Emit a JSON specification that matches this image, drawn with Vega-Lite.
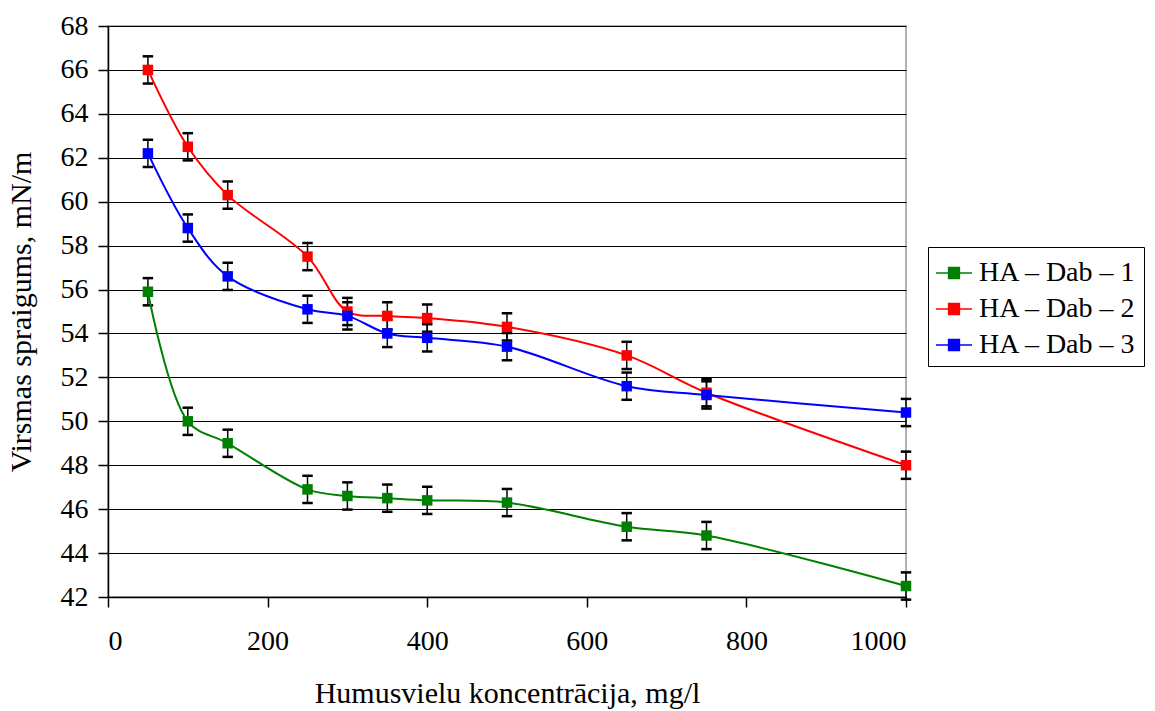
{
  "$schema": "https://vega.github.io/schema/vega-lite/v6.json",
  "width": 798,
  "height": 571,
  "autosize": {"type": "none"},
  "padding": {"left": 108, "top": 26, "right": 249, "bottom": 114},
  "background": "white",
  "config": {
    "font": "Liberation Serif",
    "view": {"stroke": "#999999", "strokeWidth": 1.5},
    "axis": {
      "labelFont": "Liberation Serif",
      "titleFont": "Liberation Serif",
      "labelFontSize": 28,
      "titleFontSize": 30,
      "titleFontWeight": "normal",
      "labelColor": "black",
      "titleColor": "black",
      "domainColor": "black",
      "tickColor": "black",
      "domainWidth": 1.5,
      "tickWidth": 1.5,
      "tickSize": 10,
      "gridColor": "black",
      "gridWidth": 1.2,
      "gridOpacity": 1
    },
    "legend": {
      "labelFont": "Liberation Serif",
      "labelFontSize": 28,
      "labelColor": "black"
    }
  },
  "data": {
    "values": [
      {"c": 50, "v": 55.9, "e": 0.62, "s": "HA – Dab – 1"},
      {"c": 100, "v": 50.0, "e": 0.62, "s": "HA – Dab – 1"},
      {"c": 150, "v": 49.0, "e": 0.62, "s": "HA – Dab – 1"},
      {"c": 250, "v": 46.9, "e": 0.62, "s": "HA – Dab – 1"},
      {"c": 300, "v": 46.6, "e": 0.62, "s": "HA – Dab – 1"},
      {"c": 350, "v": 46.5, "e": 0.62, "s": "HA – Dab – 1"},
      {"c": 400, "v": 46.4, "e": 0.62, "s": "HA – Dab – 1"},
      {"c": 500, "v": 46.3, "e": 0.62, "s": "HA – Dab – 1"},
      {"c": 650, "v": 45.2, "e": 0.62, "s": "HA – Dab – 1"},
      {"c": 750, "v": 44.8, "e": 0.62, "s": "HA – Dab – 1"},
      {"c": 1000, "v": 42.5, "e": 0.62, "s": "HA – Dab – 1"},
      {"c": 50, "v": 66.0, "e": 0.62, "s": "HA – Dab – 2"},
      {"c": 100, "v": 62.5, "e": 0.62, "s": "HA – Dab – 2"},
      {"c": 150, "v": 60.3, "e": 0.62, "s": "HA – Dab – 2"},
      {"c": 250, "v": 57.5, "e": 0.62, "s": "HA – Dab – 2"},
      {"c": 300, "v": 55.0, "e": 0.62, "s": "HA – Dab – 2"},
      {"c": 350, "v": 54.8, "e": 0.62, "s": "HA – Dab – 2"},
      {"c": 400, "v": 54.7, "e": 0.62, "s": "HA – Dab – 2"},
      {"c": 500, "v": 54.3, "e": 0.62, "s": "HA – Dab – 2"},
      {"c": 650, "v": 53.0, "e": 0.62, "s": "HA – Dab – 2"},
      {"c": 750, "v": 51.3, "e": 0.62, "s": "HA – Dab – 2"},
      {"c": 1000, "v": 48.0, "e": 0.62, "s": "HA – Dab – 2"},
      {"c": 50, "v": 62.2, "e": 0.62, "s": "HA – Dab – 3"},
      {"c": 100, "v": 58.8, "e": 0.62, "s": "HA – Dab – 3"},
      {"c": 150, "v": 56.6, "e": 0.62, "s": "HA – Dab – 3"},
      {"c": 250, "v": 55.1, "e": 0.62, "s": "HA – Dab – 3"},
      {"c": 300, "v": 54.8, "e": 0.62, "s": "HA – Dab – 3"},
      {"c": 350, "v": 54.0, "e": 0.62, "s": "HA – Dab – 3"},
      {"c": 400, "v": 53.8, "e": 0.62, "s": "HA – Dab – 3"},
      {"c": 500, "v": 53.4, "e": 0.62, "s": "HA – Dab – 3"},
      {"c": 650, "v": 51.6, "e": 0.62, "s": "HA – Dab – 3"},
      {"c": 750, "v": 51.2, "e": 0.62, "s": "HA – Dab – 3"},
      {"c": 1000, "v": 50.4, "e": 0.62, "s": "HA – Dab – 3"}
    ]
  },
  "encoding": {
    "x": {
      "field": "c",
      "type": "quantitative",
      "scale": {"domain": [0, 1000], "nice": false},
      "axis": {
        "values": [0, 200, 400, 600, 800, 1000],
        "format": "d",
        "grid": false,
        "title": "Humusvielu koncentrācija, mg/l",
        "labelPadding": 20,
        "titlePadding": 23
      }
    },
    "y": {
      "field": "v",
      "type": "quantitative",
      "scale": {"domain": [42, 68], "nice": false, "zero": false},
      "axis": {
        "values": [42, 44, 46, 48, 50, 52, 54, 56, 58, 60, 62, 64, 66, 68],
        "grid": true,
        "title": "Virsmas spraigums, mN/m",
        "labelPadding": 10,
        "titlePadding": 24
      }
    }
  },
  "layer": [
    {
      "mark": {
        "type": "errorbar",
        "ticks": {"size": 9, "stroke": "black", "color": "black", "strokeWidth": 1.5, "opacity": 1},
        "rule": {"stroke": "black", "color": "black", "strokeWidth": 1.5, "opacity": 1}
      },
      "encoding": {
        "yError": {"field": "e"},
        "detail": {"field": "s"}
      }
    },
    {
      "mark": {"type": "line", "interpolate": "catmull-rom", "strokeWidth": 2},
      "encoding": {
        "color": {
          "field": "s",
          "type": "nominal",
          "scale": {"domain": ["HA – Dab – 1", "HA – Dab – 2", "HA – Dab – 3"], "range": ["#008000", "#ff0000", "#0000ff"]}
        }
      }
    },
    {
      "mark": {"type": "point", "shape": "square", "filled": true, "size": 110, "opacity": 1},
      "encoding": {
        "color": {
          "field": "s",
          "type": "nominal",
          "scale": {"domain": ["HA – Dab – 1", "HA – Dab – 2", "HA – Dab – 3"], "range": ["#008000", "#ff0000", "#0000ff"]},
          "legend": {
            "title": null,
            "orient": "none",
            "legendX": 820,
            "legendY": 221,
            "strokeColor": "black",
            "fillColor": "white",
            "padding": 7,
            "rowPadding": 3,
            "symbolType": "M-1,0H1M-0.3,-0.3H0.3V0.3H-0.3Z",
            "symbolSize": 1296,
            "symbolStrokeWidth": 1.5,
            "symbolOpacity": 1,
            "labelOffset": 6,
            "labelFontSize": 28
          }
        }
      }
    }
  ]
}
